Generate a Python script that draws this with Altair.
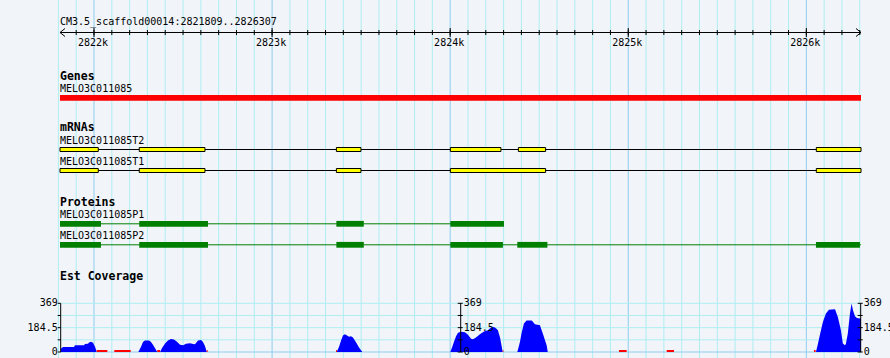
import altair as alt
import pandas as pd

# ---------------- data ----------------
REGION_LABEL = "CM3.5_scaffold00014:2821809..2826307"
REGION = [2821809, 2826307]
RULER_MAJOR = [2822000, 2823000, 2824000, 2825000, 2826000]
RULER_MAJOR_LABELS = ["2822k", "2823k", "2824k", "2825k", "2826k"]
RULER_MINOR = list(range(2821900, 2826301, 100))
GRID_POS = list(range(2821800, 2826301, 100))

GENE_TITLE = "Genes"
GENE_NAME = "MELO3C011085"
GENE_START = [2821809]
GENE_END = [2826307]

MRNA_TITLE = "mRNAs"
T2_NAME = "MELO3C011085T2"
T2_EXON_START = [2821809, 2822254, 2823361, 2824001, 2824383, 2826056]
T2_EXON_END = [2822024, 2822623, 2823499, 2824285, 2824536, 2826307]
T1_NAME = "MELO3C011085T1"
T1_EXON_START = [2821809, 2822254, 2823361, 2824001, 2826056]
T1_EXON_END = [2822024, 2822623, 2823499, 2824536, 2826307]

PROT_TITLE = "Proteins"
P1_NAME = "MELO3C011085P1"
P1_CDS_START = [2821809, 2822254, 2823361, 2824001]
P1_CDS_END = [2822039, 2822640, 2823515, 2824302]
P1_SPAN = [2821809, 2824302]
P2_NAME = "MELO3C011085P2"
P2_CDS_START = [2821809, 2822254, 2823361, 2824001, 2824377, 2826054]
P2_CDS_END = [2822039, 2822640, 2823515, 2824296, 2824546, 2826301]
P2_SPAN = [2821809, 2826307]

COV_TITLE = "Est Coverage"
COV_MAX = 369
COV_TICK_LABELS = [0, 184.5, 369]
COV_TICK_MINOR = [92.25, 276.75]
COV_POS = [
    2821813, 2821815, 2821826, 2821888, 2821893, 2821944, 2821949, 2821966, 2821972, 2821983, 2821994, 2822006, 2822015,
    2822249, 2822264, 2822275, 2822286, 2822309, 2822320, 2822331, 2822342, 2822355,
    2822371, 2822382, 2822399, 2822415, 2822432, 2822449, 2822466, 2822483, 2822500, 2822517, 2822539, 2822556,
    2822567, 2822584, 2822601, 2822612, 2822623, 2822633,
    2823363, 2823376, 2823387, 2823398, 2823409, 2823421, 2823432, 2823443, 2823454, 2823466, 2823477, 2823488, 2823507,
    2824001, 2824012, 2824022, 2824033, 2824044, 2824061, 2824083, 2824100, 2824117, 2824128, 2824145, 2824167,
    2824190, 2824212, 2824229, 2824246, 2824257, 2824268, 2824280, 2824295,
    2824377, 2824385, 2824392, 2824401, 2824414, 2824429, 2824458, 2824476, 2824504, 2824523, 2824542, 2824548,
    2826054, 2826065, 2826076, 2826093, 2826110, 2826127, 2826161, 2826177, 2826194, 2826205, 2826217, 2826222,
    2826233, 2826245, 2826254, 2826262, 2826273, 2826284, 2826301, 2826307,
]
COV_VAL = [
    0, 27, 38, 38, 52, 52, 60, 62, 72, 77, 70, 40, 0,
    0, 40, 75, 88, 88, 75, 55, 30, 0,
    0, 30, 65, 88, 98, 95, 78, 55, 52, 62, 66, 60,
    58, 88, 90, 75, 45, 0,
    0, 40, 85, 125, 134, 125, 115, 120, 110, 85, 60, 35, 0,
    0, 40, 80, 120, 145, 153, 150, 130, 100, 96, 110, 135,
    155, 165, 185, 190, 180, 165, 110, 0,
    0, 40, 78, 143, 216, 238, 238, 211, 203, 128, 50, 0,
    0, 60, 128, 228, 291, 320, 324, 266, 166, 65, 52, 60,
    141, 291, 367, 316, 271, 258, 253, 253,
]
ZERO_START = [2822015, 2822114, 2822355, 2822633, 2823359, 2824295, 2824948, 2825216, 2826043]
ZERO_END = [2822075, 2822206, 2822371, 2822638, 2823364, 2824299, 2824991, 2825257, 2826052]

# ---------------- layout / style ----------------
W, H = 890, 358
X0, X1 = 60, 861
BG = "#f1f4f9"
GRID_MINOR = "#aeeef2"
GRID_MAJOR = "#8fcdee"
FONT = "DejaVu Sans Mono"

xs = alt.Scale(domain=REGION, range=[X0, X1], nice=False, zero=False)
ys_cov = alt.Scale(domain=[0, COV_MAX], range=[352, 303.3], nice=False, zero=False)


def X(f):
    return alt.X(f, type="quantitative", scale=xs, axis=None)


def text_layer(txt, x, y, bold=False, align="left", size=None, baseline="alphabetic"):
    return alt.Chart(pd.DataFrame({"t": [txt]})).mark_text(
        font=FONT,
        fontSize=size if size else (11.5 if bold else 10),
        fontWeight="bold" if bold else "normal",
        align=align,
        baseline=baseline,
        color="black",
    ).encode(x=alt.value(x), y=alt.value(y), text="t:N")


layers = []

# vertical grid
grid_df = pd.DataFrame({"pos": GRID_POS})
grid_df["major"] = grid_df["pos"] % 1000 == 0
layers.append(
    alt.Chart(grid_df).mark_rule(strokeWidth=1).encode(
        x=X("pos"), y=alt.value(0), y2=alt.value(H),
        color=alt.condition("datum.major", alt.value(GRID_MAJOR), alt.value(GRID_MINOR)),
    )
)

# horizontal coverage grid
hg = pd.DataFrame({"v": COV_TICK_LABELS + COV_TICK_MINOR})
hg["zero"] = hg["v"] == 0
layers.append(
    alt.Chart(hg).mark_rule(strokeWidth=1).encode(
        x=alt.value(X0), x2=alt.value(X1),
        y=alt.Y("v:Q", scale=ys_cov, axis=None),
        color=alt.condition("datum.zero", alt.value(GRID_MAJOR), alt.value(GRID_MINOR)),
    )
)

# ruler
RULER_Y = 32.5
layers.append(
    alt.Chart(pd.DataFrame({"s": [REGION[0]], "e": [REGION[1]]})).mark_rule(color="black").encode(
        x=X("s"), x2="e", y=alt.value(RULER_Y)
    )
)
layers.append(
    alt.Chart(pd.DataFrame({"p": RULER_MINOR})).mark_rule(color="black").encode(
        x=X("p"), y=alt.value(30), y2=alt.value(35)
    )
)
layers.append(
    alt.Chart(pd.DataFrame({"p": RULER_MAJOR})).mark_rule(color="black").encode(
        x=X("p"), y=alt.value(28), y2=alt.value(37)
    )
)
arrow_df = pd.DataFrame({"d": [0]})
for (xa, xb) in [(X0, X0 + 5), (X1, X1 - 5)]:
    for yb in [28.5, 36.5]:
        layers.append(
            alt.Chart(arrow_df).mark_rule(color="black").encode(
                x=alt.value(xa), x2=alt.value(xb), y=alt.value(RULER_Y), y2=alt.value(yb)
            )
        )
layers.append(
    alt.Chart(pd.DataFrame({"p": RULER_MAJOR, "t": RULER_MAJOR_LABELS})).mark_text(
        font=FONT, fontSize=10, align="center", baseline="alphabetic", dx=-1, color="black"
    ).encode(x=X("p"), y=alt.value(46), text="t:N")
)
layers.append(text_layer(REGION_LABEL, X0, 25))

# gene
layers.append(text_layer(GENE_TITLE, X0, 80, bold=True))
layers.append(text_layer(GENE_NAME, X0, 92))
layers.append(
    alt.Chart(pd.DataFrame({"s": GENE_START, "e": GENE_END})).mark_rect(color="#ff0000").encode(
        x=X("s"), x2="e", y=alt.value(95), y2=alt.value(100.7)
    )
)

# mRNAs
layers.append(text_layer(MRNA_TITLE, X0, 130.5, bold=True))
for name, ss, ee, ylab, yc in [
    (T2_NAME, T2_EXON_START, T2_EXON_END, 143.5, 149.5),
    (T1_NAME, T1_EXON_START, T1_EXON_END, 165, 170.5),
]:
    layers.append(text_layer(name, X0, ylab))
    layers.append(
        alt.Chart(pd.DataFrame({"s": [REGION[0]], "e": [REGION[1]]})).mark_rule(color="black").encode(
            x=X("s"), x2="e", y=alt.value(yc)
        )
    )
    layers.append(
        alt.Chart(pd.DataFrame({"s": ss, "e": ee})).mark_rect(
            fill="#ffff00", stroke="black", strokeWidth=1
        ).encode(x=X("s"), x2="e", y=alt.value(yc - 2), y2=alt.value(yc + 2))
    )

# proteins
layers.append(text_layer(PROT_TITLE, X0, 205.5, bold=True))
for name, ss, ee, span, ylab, yc in [
    (P1_NAME, P1_CDS_START, P1_CDS_END, P1_SPAN, 217.5, 223.8),
    (P2_NAME, P2_CDS_START, P2_CDS_END, P2_SPAN, 239, 244.8),
]:
    layers.append(text_layer(name, X0, ylab))
    layers.append(
        alt.Chart(pd.DataFrame({"s": [span[0]], "e": [span[1]]})).mark_rule(color="#008000").encode(
            x=X("s"), x2="e", y=alt.value(yc)
        )
    )
    layers.append(
        alt.Chart(pd.DataFrame({"s": ss, "e": ee})).mark_rect(color="#008000").encode(
            x=X("s"), x2="e", y=alt.value(yc - 2.9), y2=alt.value(yc + 2.9)
        )
    )

# coverage
layers.append(text_layer(COV_TITLE, X0, 280, bold=True))
layers.append(
    alt.Chart(pd.DataFrame({"p": COV_POS, "v": COV_VAL})).mark_area(
        color="#0000ff", interpolate="linear"
    ).encode(x=X("p"), y=alt.Y("v:Q", scale=ys_cov, axis=None), y2=alt.datum(0))
)
layers.append(
    alt.Chart(pd.DataFrame({"s": ZERO_START, "e": ZERO_END})).mark_rect(color="#ff0000").encode(
        x=X("s"), x2="e", y=alt.value(350), y2=alt.value(352)
    )
)

# coverage axes
axis_span = pd.DataFrame({"a": [0], "b": [COV_MAX]})
ticks_df = pd.DataFrame({"v": COV_TICK_LABELS + COV_TICK_MINOR})
labels_df = pd.DataFrame({"v": COV_TICK_LABELS, "t": ["0", "184.5", "369"]})
for ax_x, side in [(60.7, "left"), (460.7, "right"), (860.7, "right")]:
    layers.append(
        alt.Chart(axis_span).mark_rule(color="black").encode(
            x=alt.value(ax_x), y=alt.Y("a:Q", scale=ys_cov, axis=None), y2="b:Q"
        )
    )
    layers.append(
        alt.Chart(ticks_df).mark_rule(color="black").encode(
            x=alt.value(ax_x - 3), x2=alt.value(ax_x + (0 if side == "left" else 2)),
            y=alt.Y("v:Q", scale=ys_cov, axis=None),
        )
    )
    layers.append(
        alt.Chart(labels_df).mark_text(
            font=FONT, fontSize=10, color="black", baseline="middle",
            align="right" if side == "left" else "left",
        ).encode(
            x=alt.value(ax_x - 3 if side == "left" else ax_x + 3),
            y=alt.Y("v:Q", scale=ys_cov, axis=None),
            text="t:N",
        )
    )

chart = alt.layer(*layers).properties(
    width=W, height=H, background=BG, padding=0, autosize="none"
).configure_view(stroke=None)

chart.save("out.html", embed_options={"renderer": "svg", "actions": False})
